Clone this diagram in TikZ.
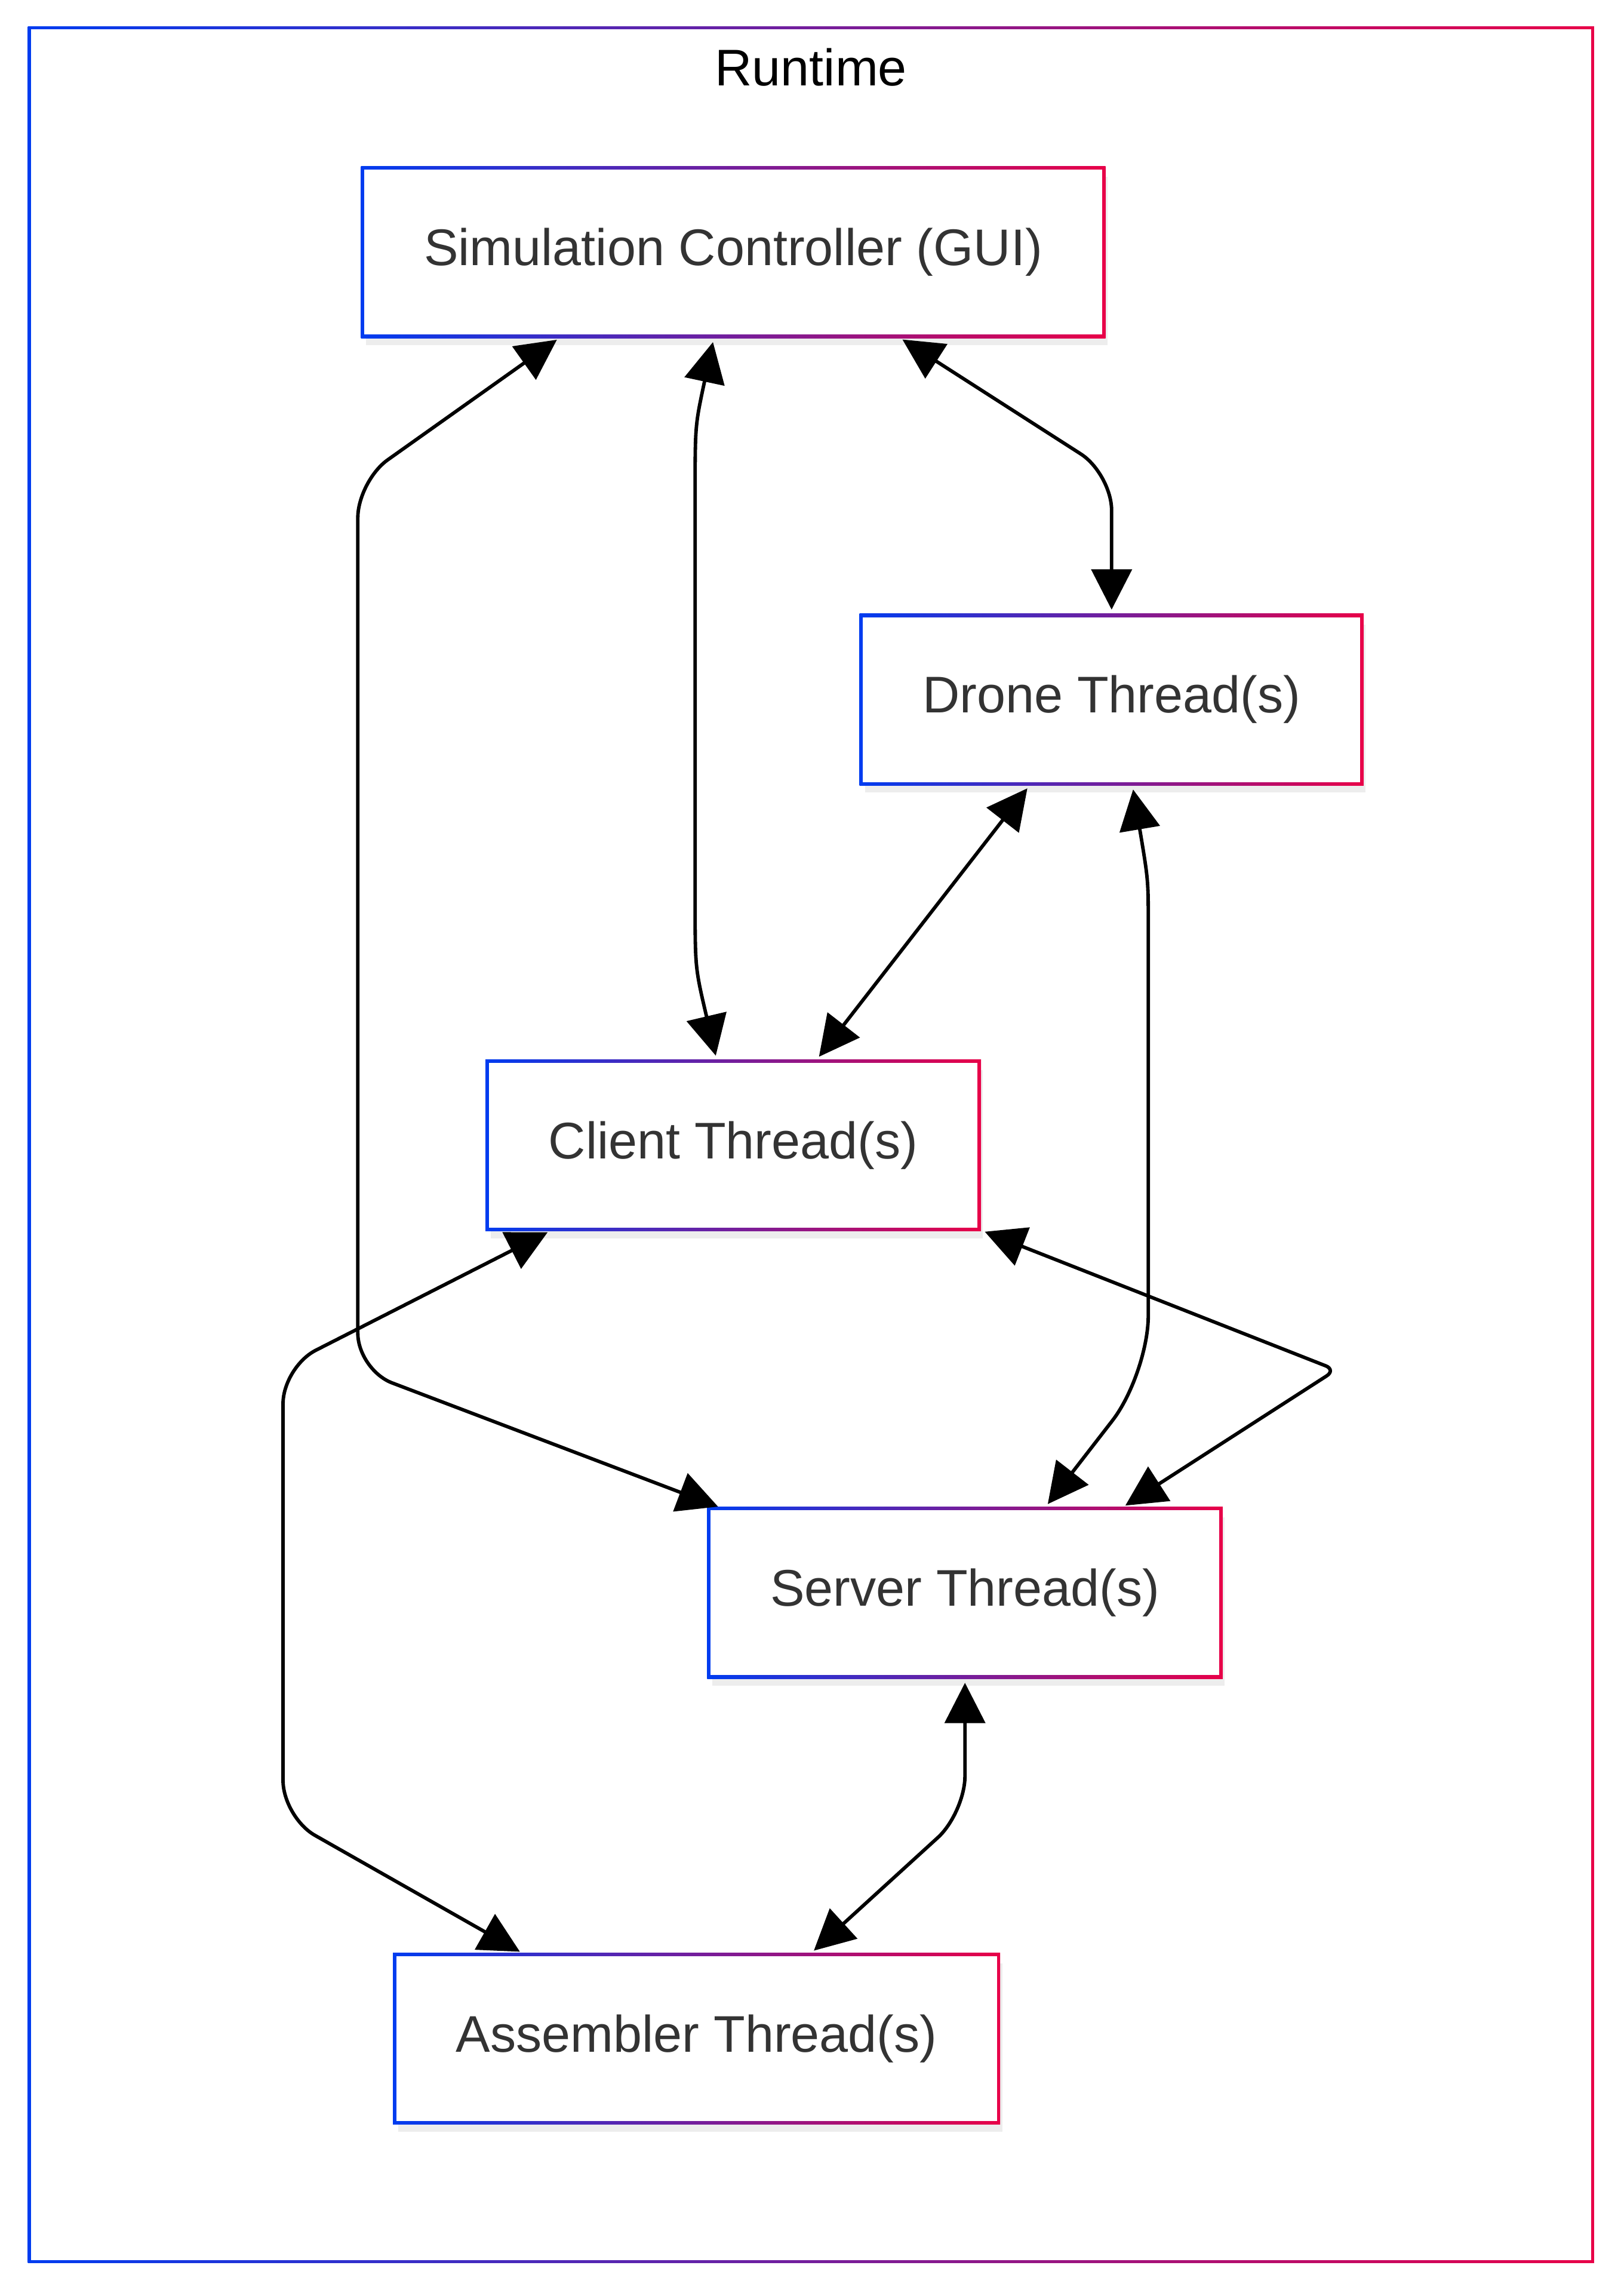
\documentclass[tikz,border=0pt]{standalone}
\usepackage{fontspec}
\setmainfont{Liberation Sans}
\usetikzlibrary{positioning,calc,arrows.meta,backgrounds}
\definecolor{RunBlue}{RGB}{0,60,240}
\definecolor{RunRed}{RGB}{232,0,72}
\definecolor{RunText}{RGB}{51,51,51}
\tikzset{
    thread/.style={rectangle, minimum height=2.28cm, inner xsep=0.83cm, text=RunText, font=\fontsize{20}{24}\selectfont},
    link/.style={{Triangle[length=0.55cm,width=0.55cm]}-{Triangle[length=0.55cm,width=0.55cm]}, line width=1.35pt, rounded corners=0.5cm, shorten <=0.08cm, shorten >=0.08cm}
}
\begin{document}
\begin{tikzpicture}[x=0.02cm, y=-0.02cm]
    \useasboundingbox (0,0) rectangle (1107,1563.4);
    \node[font=\fontsize{20}{24}\selectfont] (title) at (553,46) {Runtime};

    \node[thread] (sim) at (500,172) {Simulation Controller (GUI)};
    \node[thread] (drone) at (758,477) {Drone Thread(s)};
    \node[thread] (client) at (500,781) {Client Thread(s)};
    \node[thread] (server) at (658,1086) {Server Thread(s)};
    \node[thread] (assembler) at (475,1390) {Assembler Thread(s)};

    % gradient frames
    \begin{scope}[on background layer]
        \shade[left color=RunBlue, right color=RunRed] (19,18) rectangle (1087,1543);
        \fill[white] (21,20) rectangle (1085,1541);
        \foreach \n in {sim,drone,client,server,assembler}{
            \fill[black, opacity=0.07] ($(\n.south west)+(0.05cm,-0.12cm)$) rectangle ($(\n.north east)+(0.05cm,-0.12cm)$);
            \shade[left color=RunBlue, right color=RunRed] ($(\n.south west)+(-0.65pt,-0.65pt)$) rectangle ($(\n.north east)+(0.65pt,0.65pt)$);
            \fill[white] ($(\n.south west)+(0.65pt,0.65pt)$) rectangle ($(\n.north east)+(-0.65pt,-0.65pt)$);
        }
    \end{scope}

    \draw[link] ($(sim.south)+(-117,0)$) -- (244,328) -- (244,934) -- ($(server.north west)+(10,0)$);
    \draw[link] ($(sim.south)+(-13,0)$) .. controls (474,290) .. (474,360) -- (474,590) .. controls (474,660) .. ($(client.north)+(-11,0)$);
    \draw[link] ($(sim.south)+(112,0)$) -- (758,323) -- (drone.north);
    \draw[link] ($(drone.south)+(-55,0)$) -- ($(client.north)+(56,0)$);
    \draw[link, rounded corners=0.8cm] ($(drone.south)+(14,0)$) .. controls (783,600) .. (783,670) -- (783,937) -- ($(server.north)+(54,0)$);
    \draw[link, rounded corners=0.15cm] (client.south east) -- (911,934) -- ($(server.north)+(106,0)$);
    \draw[link] ($(client.south)+(-123,0)$) -- (193,932) -- (193,1239) -- ($(assembler.north)+(-117,0)$);
    \draw[link] (server.south) -- (658,1236) -- ($(assembler.north)+(77,0)$);
\end{tikzpicture}
\end{document}
